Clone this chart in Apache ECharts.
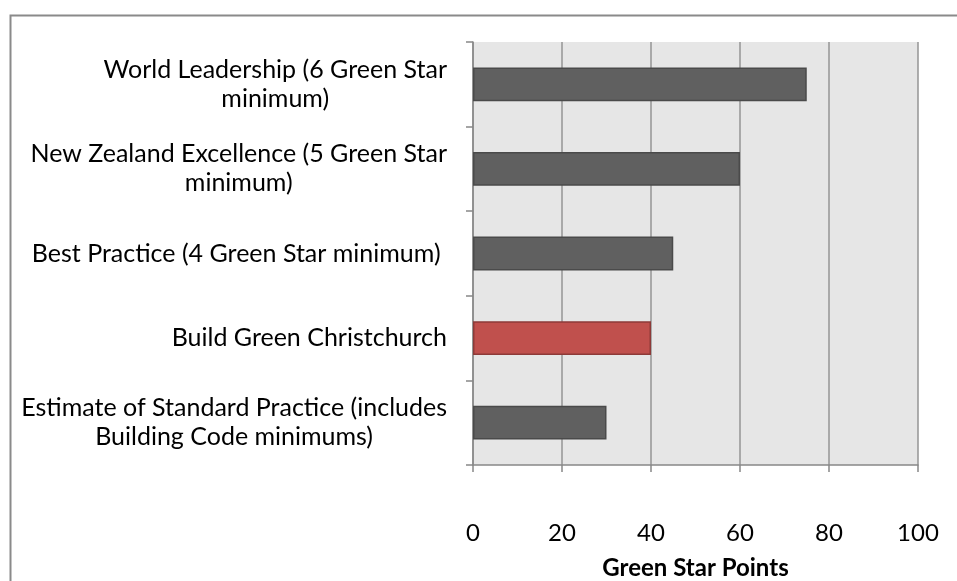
<!DOCTYPE html>
<html>
<head>
<meta charset="utf-8">
<script src="https://cdn.jsdelivr.net/npm/echarts@6/dist/echarts.min.js"></script>
<style>
  html, body { margin: 0; padding: 0; background: #fff; }
  #chart { width: 957px; height: 581px; }
</style>
</head>
<body>
<div id="chart"></div>
<script>
  // categories, top to bottom
  const categories = [
    'World Leadership (6 Green Star\nminimum)',
    'New Zealand Excellence (5 Green Star\nminimum)',
    'Best Practice (4 Green Star minimum) ',
    'Build Green Christchurch',
    'Estimate of Standard Practice (includes\nBuilding Code minimums)'
  ];
  const points = [75, 60, 45, 40, 30];
  const xTicks = [0, 20, 40, 60, 80, 100];
  const highlighted = 'Build Green Christchurch';

  const font = 'Lato, "Open Sans", sans-serif';

  const chart = echarts.init(document.getElementById('chart'));
  chart.setOption({
    animation: false,
    graphic: [{
      type: 'rect',
      left: 8, top: 13,
      shape: { width: 1200, height: 1000 },
      style: { fill: 'none', stroke: '#8a8a8a', lineWidth: 2 },
      silent: true
    }],
    grid: {
      left: 473, right: 39, top: 42, bottom: 116,
      outerBoundsMode: 'none',
      containLabel: false,
      show: true, backgroundColor: '#e6e6e6', borderWidth: 0
    },
    xAxis: {
      type: 'value',
      min: xTicks[0], max: xTicks[xTicks.length - 1], interval: 20,
      name: 'Green Star Points',
      nameLocation: 'middle',
      nameGap: 91,
      nameTextStyle: { fontFamily: font, fontSize: 24, fontWeight: 'bold', color: '#000', verticalAlign: 'top' },
      axisLine: { show: true, lineStyle: { color: '#888', width: 1.5 } },
      axisTick: { show: true, length: 7, lineStyle: { color: '#888', width: 1.5 } },
      axisLabel: { margin: 56, fontFamily: font, fontSize: 24, color: '#000' },
      splitLine: { show: true, lineStyle: { color: '#959595', width: 1.5 } }
    },
    yAxis: {
      type: 'category',
      inverse: true,
      data: categories,
      axisLine: { show: true, lineStyle: { color: '#888', width: 1.5 } },
      axisTick: { show: true, length: 7, lineStyle: { color: '#888', width: 1.5 } },
      axisLabel: {
        margin: 26,
        fontFamily: font, fontSize: 25, color: '#000', lineHeight: 29,
        formatter: v => v.split('\n').map(l => '{c|' + l + '}').join('\n'),
        rich: { c: { align: 'center', fontFamily: font, fontSize: 25, color: '#000', lineHeight: 29 } }
      },
      splitLine: { show: false }
    },
    series: [{
      type: 'bar',
      data: points.map((v, i) => categories[i] === highlighted
        ? { value: v, itemStyle: { color: '#c0504d', borderColor: '#8d3a38' } }
        : v),
      barWidth: '40%',
      itemStyle: {
        color: '#606060',
        borderColor: '#4a4a4a',
        borderWidth: 1.5
      }
    }]
  });
</script>
</body>
</html>
